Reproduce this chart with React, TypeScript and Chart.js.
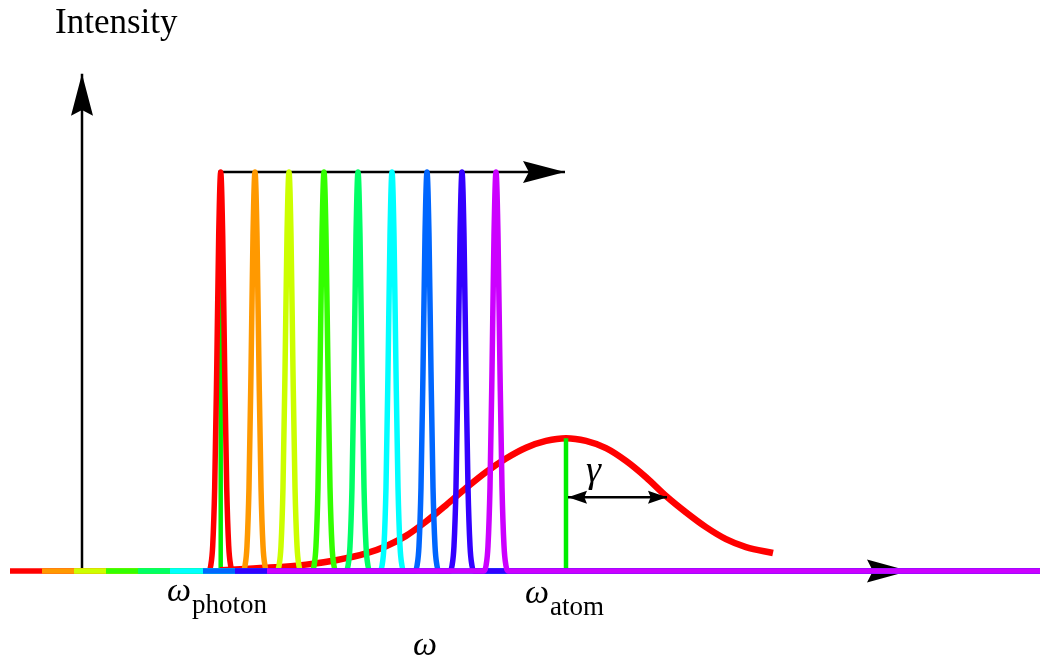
import React, { useEffect, useRef } from 'react';
import { Chart, registerables } from 'chart.js';

Chart.register(...registerables);

// ---- data (frequency ω in arbitrary units, intensity normalised to photon peak = 1) ----
const photonCenters = [1.387, 1.73, 2.07, 2.42, 2.76, 3.1, 3.45, 3.8, 4.14];
const photonStarts = [-0.72, -0.4, -0.08, 0.24, 0.56, 0.88, 1.21, 1.53, 1.85];
const photonColors = ['#ff0000', '#ff9900', '#ccff00', '#33ff00', '#00ff66', '#00ffff', '#0066ff', '#3300ff', '#cc00ff'];
const spectrumEnd = 9.58;
const lineProfileOffsets = [-0.12, -0.1, -0.08, -0.06, -0.04, -0.02, 0, 0.02, 0.04, 0.06, 0.08, 0.1, 0.12];
const lineProfileHeights = [0, 0.013, 0.063, 0.21, 0.5, 0.84, 1, 0.84, 0.5, 0.21, 0.063, 0.013, 0];

const atomOmega = [1.38, 1.84, 2.24, 2.54, 2.84, 3.04, 3.24, 3.44, 3.64, 3.84, 4.04, 4.24, 4.44, 4.64, 4.84, 5.04, 5.24, 5.44, 5.64, 5.84, 6.04, 6.24, 6.44, 6.64, 6.91];
const atomIntensity = [0.002, 0.008, 0.016, 0.027, 0.044, 0.062, 0.088, 0.124, 0.165, 0.208, 0.248, 0.282, 0.309, 0.326, 0.333, 0.326, 0.308, 0.276, 0.235, 0.188, 0.147, 0.11, 0.08, 0.06, 0.045];

const omegaPhoton = 1.387;
const omegaAtom = 4.84;
const atomPeak = 0.333;
const gammaFrom = 4.86;
const gammaTo = 5.85;
const gammaLevel = 0.185;

const axisOmega = [-0.72, 8.27];
const axisIntensity = [0, 1.246];
const sweepOmega = [1.36, 4.83];
const sweepLevel = 1;

const labelIntensity = 'Intensity';
const labelOmega = 'ω';
const labelPhoton = 'photon';
const labelAtom = 'atom';
const labelGamma = 'γ';

const SERIF = '"Liberation Serif", "Times New Roman", serif';

function drawHead(ctx: CanvasRenderingContext2D, tip: any, from: any, length: number, half: number) {
  const dx = tip.x - from.x;
  const dy = tip.y - from.y;
  const len = Math.hypot(dx, dy) || 1;
  const ux = dx / len, uy = dy / len;
  const nx = -uy, ny = ux;
  const bx = tip.x - ux * length, by = tip.y - uy * length;
  const notch = length * 0.86;
  ctx.beginPath();
  ctx.moveTo(tip.x, tip.y);
  ctx.lineTo(bx + nx * half, by + ny * half);
  ctx.lineTo(tip.x - ux * notch, tip.y - uy * notch);
  ctx.lineTo(bx - nx * half, by - ny * half);
  ctx.closePath();
  ctx.fill();
}

const arrowPlugin = {
  id: 'arrowHeads',
  afterDatasetDraw(chart: any, args: any) {
    const ds = chart.data.datasets[args.index];
    if (!ds.arrowEnd && !ds.arrowStart) return;
    const pts = chart.getDatasetMeta(args.index).data;
    const ctx = chart.ctx;
    ctx.save();
    ctx.fillStyle = ds.borderColor;
    if (ds.arrowEnd) {
      const n = pts.length;
      drawHead(ctx, pts[n - 1], pts[n - 2], ds.arrowEnd[0], ds.arrowEnd[1]);
    }
    if (ds.arrowStart) {
      drawHead(ctx, pts[0], pts[1], ds.arrowStart[0], ds.arrowStart[1]);
    }
    ctx.restore();
  },
};

const labelPlugin = {
  id: 'diagramLabels',
  afterDraw(chart: any) {
    const ctx = chart.ctx;
    const xs = chart.scales.x;
    const ys = chart.scales.y;
    ctx.save();
    ctx.fillStyle = '#000';
    ctx.textBaseline = 'alphabetic';
    ctx.textAlign = 'left';

    ctx.font = `35px ${SERIF}`;
    ctx.fillText(labelIntensity, xs.getPixelForValue(-0.27), ys.getPixelForValue(1.348));

    const sub = (main: string, subText: string, x: number, y: number) => {
      ctx.font = `italic 34px ${SERIF}`;
      const px = xs.getPixelForValue(x);
      const py = ys.getPixelForValue(y);
      ctx.fillText(main, px, py);
      const w = ctx.measureText(main).width;
      ctx.font = `27px ${SERIF}`;
      ctx.fillText(subText, px + w + 1, py + 12);
    };
    sub(labelOmega, labelPhoton, 0.85, -0.075);
    sub(labelOmega, labelAtom, 4.43, -0.08);

    ctx.font = `italic 34px ${SERIF}`;
    ctx.fillText(labelOmega, xs.getPixelForValue(3.31), ys.getPixelForValue(-0.21));

    ctx.font = `italic 38px ${SERIF}`;
    ctx.fillText(labelGamma, xs.getPixelForValue(5.04), ys.getPixelForValue(0.222));
    ctx.restore();
  },
};

function buildDatasets() {
  const seq: any[] = [];
  const base = { pointRadius: 0, pointHoverRadius: 0, fill: false, clip: false };

  // axes
  seq.push({ ...base, data: [{ x: axisOmega[0], y: 0 }, { x: axisOmega[1], y: 0 }], borderColor: '#000', borderWidth: 2.5, arrowEnd: [42, 11.5] });
  seq.push({ ...base, data: [{ x: 0, y: axisIntensity[0] }, { x: 0, y: axisIntensity[1] }], borderColor: '#000', borderWidth: 2.5, arrowEnd: [42, 11] });
  // sweep arrow
  seq.push({ ...base, data: [{ x: sweepOmega[0], y: sweepLevel }, { x: sweepOmega[1], y: sweepLevel }], borderColor: '#000', borderWidth: 2.5, arrowEnd: [42, 11] });
  // photon centre marker
  seq.push({ ...base, data: [{ x: omegaPhoton, y: 0 }, { x: omegaPhoton, y: 1 }], borderColor: '#00ee00', borderWidth: 4.5 });
  // atom line shape
  seq.push({
    ...base,
    data: atomOmega.map((x, i) => ({ x, y: atomIntensity[i] })),
    borderColor: '#ff0000',
    borderWidth: 6.5,
    cubicInterpolationMode: 'monotone',
  });
  // atom centre marker
  seq.push({ ...base, data: [{ x: omegaAtom, y: 0 }, { x: omegaAtom, y: atomPeak }], borderColor: '#00ee00', borderWidth: 4.5 });
  // photon lines
  photonCenters.forEach((c, i) => {
    const pts = [{ x: photonStarts[i], y: 0 }];
    lineProfileOffsets.forEach((o, k) => pts.push({ x: c + o, y: lineProfileHeights[k] }));
    pts.push({ x: spectrumEnd, y: 0 });
    seq.push({
      ...base,
      data: pts,
      borderColor: photonColors[i],
      borderWidth: 5.5,
      cubicInterpolationMode: 'monotone',
      borderJoinStyle: 'round',
    });
  });
  // gamma arrow
  seq.push({ ...base, data: [{ x: gammaFrom, y: gammaLevel }, { x: gammaTo, y: gammaLevel }], borderColor: '#000', borderWidth: 2.5, arrowEnd: [19, 6.5], arrowStart: [19, 6.5] });

  return seq.map((d, idx) => ({ ...d, order: seq.length - idx }));
}

export default function App() {
  const ref = useRef<HTMLCanvasElement>(null);
  useEffect(() => {
    if (!ref.current) return;
    const yMax = 571 / 399;
    const chart = new Chart(ref.current, {
      type: 'line',
      data: { datasets: buildDatasets() as any },
      options: {
        animation: false,
        responsive: false,
        events: [],
        layout: { padding: 0 },
        plugins: { legend: { display: false }, tooltip: { enabled: false } },
        scales: {
          x: { type: 'linear', min: -0.82, max: 9.59, display: false },
          y: { type: 'linear', min: yMax - 662 / 399, max: yMax, display: false },
        },
      },
      plugins: [arrowPlugin, labelPlugin],
    } as any);
    return () => chart.destroy();
  }, []);
  return (
    <div style={{ position: 'fixed', left: 0, top: 0, width: 1041, height: 662, background: '#fff' }}>
      <canvas ref={ref} width={1041} height={662} style={{ display: 'block' }} />
    </div>
  );
}
